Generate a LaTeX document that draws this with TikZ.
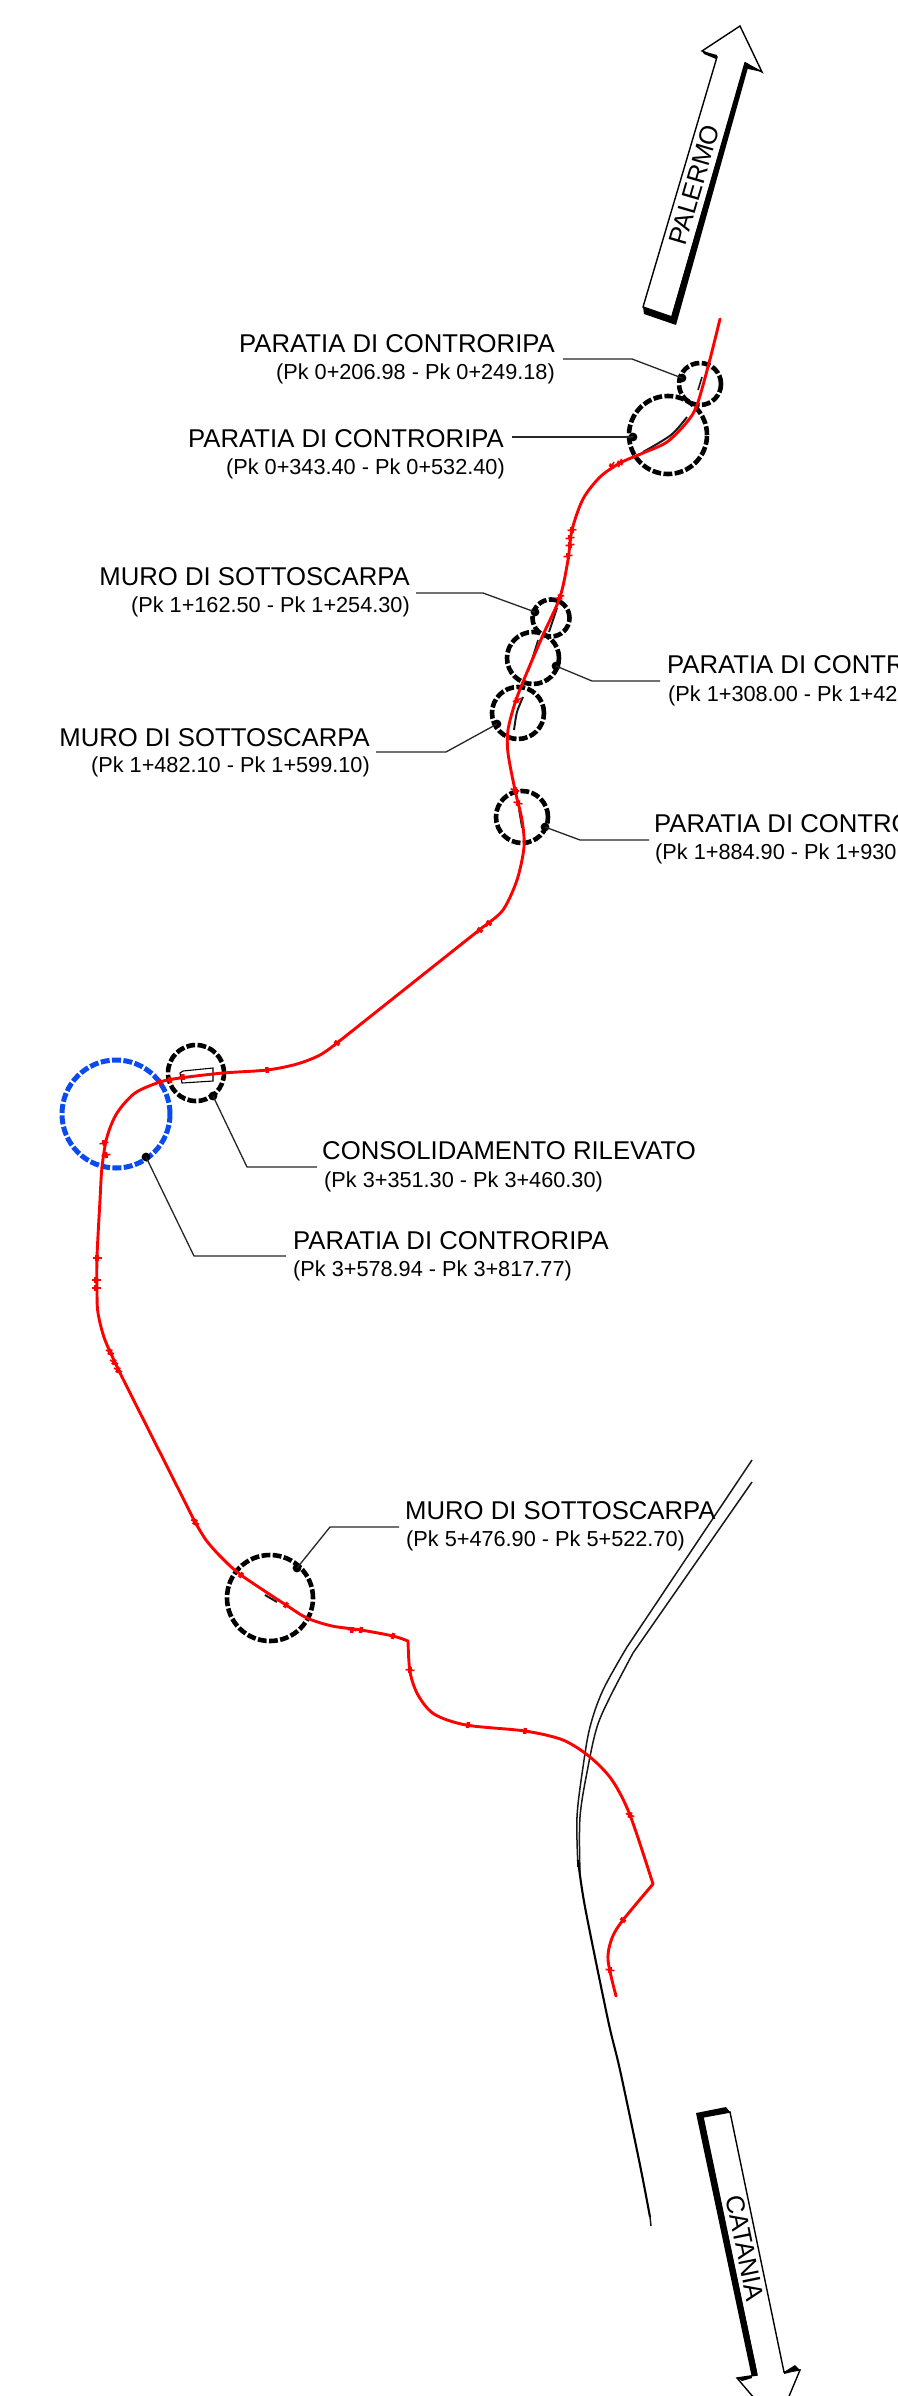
\documentclass[tikz,border=0pt]{standalone}
\usepackage{fontspec}
\setmainfont{Liberation Sans}
\definecolor{ringblue}{HTML}{0A4BF0}
\tikzset{
  ring/.style={circle,draw=black,line width=4.6bp,dash pattern=on 8.8bp off 2.4bp,inner sep=0pt,minimum size=#1},
  bluering/.style={circle,draw=ringblue,line width=5bp,dash pattern=on 9bp off 2.4bp,inner sep=0pt,minimum size=#1},
  leader/.style={draw=black!85,line width=1.3bp},
  dotmark/.style={fill=black},
  redline/.style={draw=red,line width=2.9bp,line cap=round,line join=round},
  roadline/.style={draw=black!90,line width=1.5bp},
  detail/.style={draw=black!90,line width=2bp},
  mainlab/.style={inner sep=0pt,font=\fontsize{25.7bp}{28bp}\selectfont},
  sublab/.style={inner sep=0pt,font=\fontsize{21.7bp}{24bp}\selectfont},
  arrowlab/.style={inner sep=0pt,font=\fontsize{25.7bp}{28bp}\selectfont}
}
\begin{document}
\begin{tikzpicture}[x=1bp,y=-1bp]
\useasboundingbox (0,0) rectangle (897,2396);
\clip (0,0) rectangle (897,2396);
\fill[white] (0,0) rectangle (897,2396);

% Palermo arrow
\draw[black,line width=1.4bp,line join=miter,fill=white] (643,307) -- (717,57) -- (702,51) -- (740,26) -- (762,72) -- (745,63) -- (672,317) -- cycle;
\fill[black] (745,63) -- (749,64) -- (676,325) -- (644,314) -- (643,307) -- (671,317) -- cycle;
\fill[black] (702,51) -- (717,55) -- (716,59) -- (704,54) -- cycle;
\fill[black] (745,62) -- (762,72) -- (748,69) -- cycle;
\node[arrowlab,rotate=73.7] (palermo) at (694,185) {PALERMO};

% Catania arrow
\draw[black,line width=1.4bp,fill=white] (730,2112) -- (784,2372) -- (800,2370) -- (777,2425) -- (737,2378) -- (757,2375) -- (703,2117) -- cycle;
\fill[black] (696,2113) -- (726,2107) -- (730,2112) -- (703,2117) -- (757,2372) -- (757,2375) -- (737,2378) -- (742,2381) -- (752,2378) -- cycle;
\fill[black] (784,2372) -- (795,2365) -- (800,2370) -- (784,2374) -- cycle;
\node[arrowlab,rotate=-78.3] (catania) at (745,2248) {CATANIA};

% road
\draw[roadline] (752,1460) -- (627,1647);
\draw[roadline] plot[smooth,tension=0.55] coordinates {(627,1647) (603,1690) (590,1727) (583,1767) (577,1817) (578,1867)};
\draw[roadline] (752,1482) -- (633,1653);
\draw[roadline] plot[smooth,tension=0.55] coordinates {(633,1653) (610,1697) (597,1727) (588,1767) (580,1817) (580,1873)};
\draw[draw=black,line width=2.1bp] plot[smooth,tension=0.5] coordinates {(578,1860) (585,1907) (608,2020) (620,2070) (640,2165) (650,2217)};
\draw[roadline] (650,2217) -- (651,2226);

% structure details
\draw[detail,line width=1.6bp] (702,377) -- (698,390);
\draw[detail] plot[smooth] coordinates {(687,417) (671,435) (643,452)};
\draw[detail] (557,608) -- (549,632);
\draw[detail,line width=1.6bp] (538,640) -- (528,672);
\draw[detail] plot[smooth] coordinates {(523,697) (517,712) (514,730)};
\draw[detail,line width=1.6bp] (519,810) -- (522,828);
\draw[black,line width=1.1bp] (180,1073) -- (183,1071) -- (213,1068) -- (213,1081) -- (182,1083) -- cycle;
\draw[detail] (265,1595) -- (277,1602);

% rings
\node[ring=42bp] (c1) at (700,384) {};
\node[ring=78bp] (c2) at (668,435) {};
\node[ring=37bp] (c3) at (551,618) {};
\node[ring=52bp] (c4) at (533,658) {};
\node[ring=52bp] (c5) at (518,713) {};
\node[ring=52bp] (c6) at (522,817) {};
\node[ring=56bp] (c7) at (196,1073) {};
\node[bluering=108bp] (c8) at (116,1114) {};
\node[ring=86bp] (c9) at (270,1598) {};

% red alignment
\draw[redline] plot[smooth,tension=0.5] coordinates {(720,319) (709,363) (697,405) (687,422) (667,442) (643,453) (620,463) (600,477) (583,499) (572,530) (568,560) (560,597) (543,635) (525,677) (515,703) (508,730) (508,753) (515,790) (522,820) (524,847) (517,880) (503,910) (483,927)};
\draw[redline] (483,927) -- (337,1043);
\draw[redline] plot[smooth,tension=0.5] coordinates {(337,1043) (320,1055) (297,1064) (267,1070) (223,1073) (180,1078) (160,1082) (135,1093) (117,1113) (107,1137) (102,1167) (100,1200) (97,1257) (97,1293) (98,1313) (105,1340) (122,1377)};
\draw[redline] (122,1377) -- (195,1522);
\draw[redline] plot[smooth,tension=0.5] coordinates {(195,1522) (206,1540) (221,1557) (241,1575) (286,1605) (307,1618) (332,1626) (361,1630) (393,1636) (408,1641)};
\draw[redline] plot[smooth,tension=0.5] coordinates {(408,1641) (410,1672) (418,1695) (434,1714) (466,1725) (525,1731) (563,1740) (590,1757) (612,1780) (630,1815) (653,1884)};
\draw[redline] plot[smooth,tension=0.5] coordinates {(653,1884) (623,1920) (612,1938) (608,1960) (616,1996)};

% small ticks on the alignment
\foreach \px/\py/\ang in {620/463/70,612/466/65,572/530/5,570/538/8,570/545/8,568/556/10,560/597/20,517/700/20,515/790/-15,518/803/-12,489/923/50,480/930/50,337/1043/50,267/1070/5,183/1077/5,170/1080/10,160/1082/20,104/1143/10,106/1155/8,97/1258/0,96/1280/0,96/1288/0,110/1352/-25,114/1362/-25,118/1370/-25,195/1522/-30,241/1575/-40,286/1605/-35,352/1630/-8,361/1630/-8,393/1636/-15,410/1670/-5,468/1725/-8,525/1731/-8,630/1815/-20,623/1920/50,610/1970/-8}
{\draw[red,line width=1.6bp,shift={(\px,\py)},rotate=\ang] (-4.5,0) -- (4.5,0);
 \draw[red,line width=3.4bp,shift={(\px,\py)},rotate=\ang] (0,-3) -- (0,3);}

% leaders
\coordinate (d1) at (682,378);
\coordinate (d2) at (633,437);
\coordinate (d3) at (535,612);
\coordinate (d4) at (556,666);
\coordinate (d5) at (497,724);
\coordinate (d6) at (545,827);
\coordinate (d7) at (213,1096);
\coordinate (d8) at (146,1157);
\coordinate (d9) at (297,1568);
\foreach \d in {d1,d2,d3,d4,d5,d6,d7,d8,d9} {\fill[dotmark] (\d) circle (4.4bp);}
\coordinate (e1) at (563,359);
\coordinate (e2) at (512,437);
\coordinate (e3) at (416,593);
\coordinate (e4) at (660,681);
\coordinate (e5) at (376,752);
\coordinate (e6) at (649,840);
\coordinate (e7) at (317,1167);
\coordinate (e8) at (286,1256);
\coordinate (e9) at (399,1527);
\draw[leader] (d1) -- (632,359) -- (e1);
\draw[leader] (d2) -- (e2);
\draw[leader] (d3) -- (483,593) -- (e3);
\draw[leader] (d4) -- (592,681) -- (e4);
\draw[leader] (d5) -- (446,752) -- (e5);
\draw[leader] (d6) -- (580,840) -- (e6);
\draw[leader] (d7) -- (247,1167) -- (e7);
\draw[leader] (d8) -- (194,1256) -- (e8);
\draw[leader] (d9) -- (330,1527) -- (e9);

% labels
\node[mainlab,anchor=east] (t1) at (555,344) {PARATIA DI CONTRORIPA};
\node[sublab,anchor=east] (s1) at (555,374) {(Pk 0+206.98 - Pk 0+249.18)};
\node[mainlab,anchor=east] (t2) at (504,439) {PARATIA DI CONTRORIPA};
\node[sublab,anchor=east] (s2) at (505,469) {(Pk 0+343.40 - Pk 0+532.40)};
\node[mainlab,anchor=east] (t3) at (410,577) {MURO DI SOTTOSCARPA};
\node[sublab,anchor=east] (s3) at (410,607) {(Pk 1+162.50 - Pk 1+254.30)};
\node[mainlab,anchor=west] (t4) at (667,665) {PARATIA DI CONTRORIPA};
\node[sublab,anchor=west] (s4) at (668,696) {(Pk 1+308.00 - Pk 1+425};
\node[mainlab,anchor=east] (t5) at (370,738) {MURO DI SOTTOSCARPA};
\node[sublab,anchor=east] (s5) at (370,767) {(Pk 1+482.10 - Pk 1+599.10)};
\node[mainlab,anchor=west] (t6) at (654,824) {PARATIA DI CONTRORIPA};
\node[sublab,anchor=west] (s6) at (655,854) {(Pk 1+884.90 - Pk 1+930};
\node[mainlab,anchor=west] (t7) at (322,1151) {CONSOLIDAMENTO RILEVATO};
\node[sublab,anchor=west] (s7) at (324,1182) {(Pk 3+351.30 - Pk 3+460.30)};
\node[mainlab,anchor=west] (t8) at (293,1241) {PARATIA DI CONTRORIPA};
\node[sublab,anchor=west] (s8) at (293,1271) {(Pk 3+578.94 - Pk 3+817.77)};
\node[mainlab,anchor=west] (t9) at (405,1511) {MURO DI SOTTOSCARPA};
\node[sublab,anchor=west] (s9) at (406,1541) {(Pk 5+476.90 - Pk 5+522.70)};
\end{tikzpicture}
\end{document}
